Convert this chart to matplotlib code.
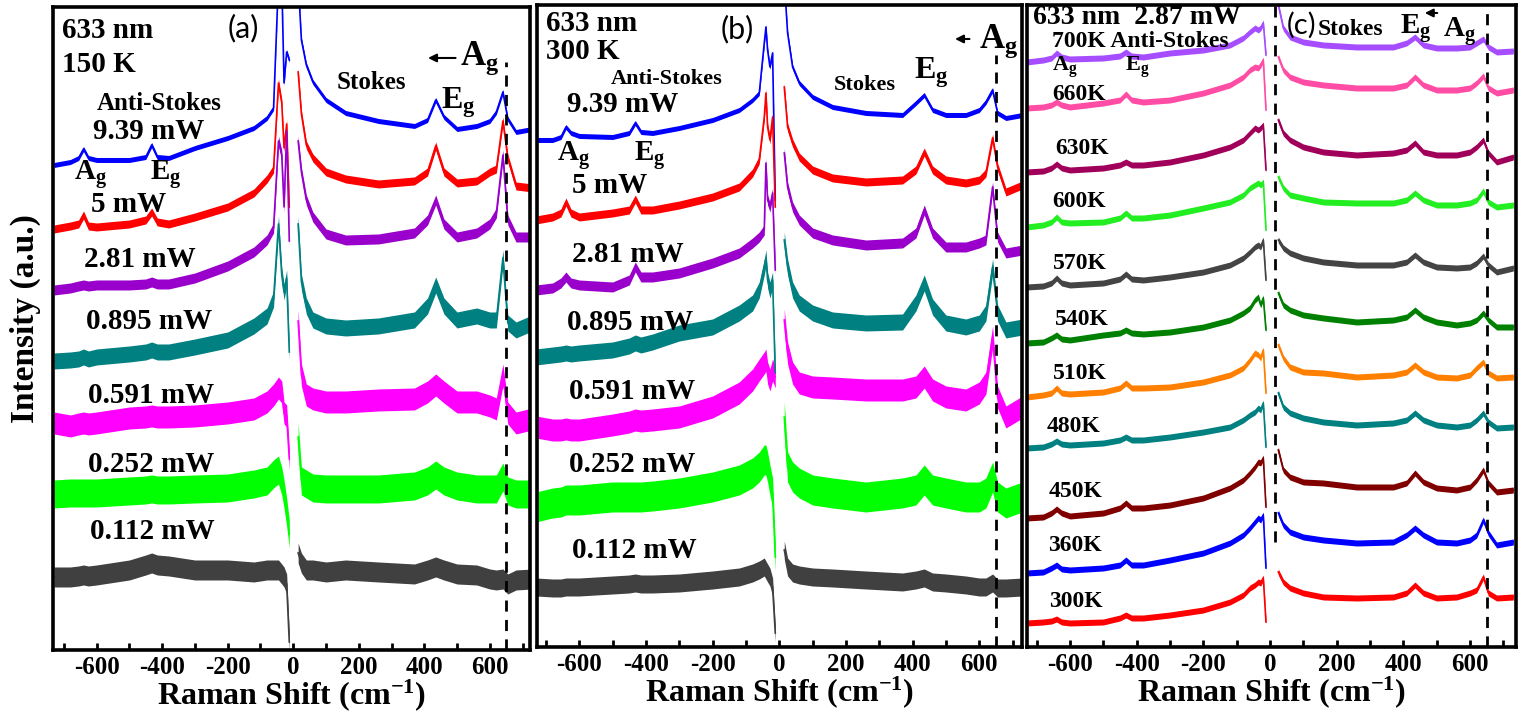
import matplotlib.pyplot as plt
from matplotlib.ticker import MultipleLocator
import numpy as np

plt.rcParams['font.family'] = 'serif'
plt.rcParams['font.serif'] = ['Liberation Serif', 'DejaVu Serif']
plt.rcParams['font.weight'] = 'bold'
plt.rcParams['axes.labelweight'] = 'bold'
plt.rcParams['mathtext.fontset'] = 'custom'
plt.rcParams['mathtext.rm'] = 'Liberation Serif:bold'
plt.rcParams['mathtext.bf'] = 'Liberation Serif:bold'
plt.rcParams['mathtext.it'] = 'Liberation Serif:bold'
plt.rcParams['mathtext.default'] = 'bf'
plt.rcParams['axes.unicode_minus'] = False

# Raman shift grids (cm-1): anti-Stokes side and Stokes side
as_x = [-730, -680, -655, -640, -625, -600, -500, -450, -432, -415, -380, -300, -200, -120, -80, -60, -45, -35, -28, -20, -12]
as_x_b = [-730, -680, -655, -640, -625, -600, -500, -450, -432, -415, -380, -300, -200, -120, -80, -60, -45, -40, -35, -28, -20, -12]
s_x = [15, 25, 40, 60, 100, 160, 260, 370, 410, 435, 460, 500, 560, 600, 620, 640, 655, 680, 730]
s_x_c = [25, 40, 60, 100, 160, 260, 370, 410, 435, 460, 500, 560, 600, 620, 640, 655, 680, 730]

# (a) 150 K, power series (stacked intensity, a.u.) -- anti-Stokes values then Stokes values
a_labels = ['9.39 mW', '5 mW', '2.81 mW', '0.895 mW', '0.591 mW', '0.252 mW', '0.112 mW']
a_939 = [485, 488, 492, 501, 492, 490, 490, 493, 505, 493, 492, 502, 512, 522, 532, 542, 670, 670, 567, 598, 590,
         670, 610, 585, 568, 550, 537, 529, 524, 530, 550, 533, 521, 524, 529, 538, 558, 531, 518, 521]
a_5 = [421, 424, 426, 435, 424, 423, 426, 430, 438, 428, 426, 433, 443, 457, 471, 481, 567, 547, 502, 526, 443,
       578, 536, 505, 492, 478, 471, 466, 469, 478, 504, 478, 467, 469, 478, 481, 529, 492, 464, 462]
a_281 = [360, 362, 364, 365, 364, 365, 365, 366, 368, 366, 366, 372, 384, 398, 410, 422, 509, 495, 443, 519, 409,
         509, 478, 450, 433, 416, 410, 411, 417, 430, 450, 426, 413, 417, 426, 437, 495, 430, 413, 413]
a_0895 = [289, 290, 291, 293, 291, 293, 296, 298, 300, 298, 298, 303, 310, 324, 334, 351, 426, 375, 358, 372, 298,
          426, 368, 344, 330, 324, 322, 324, 330, 344, 365, 344, 330, 334, 330, 330, 392, 327, 320, 327]
a_0591 = [227, 224, 226, 227, 226, 227, 232, 233, 234, 233, 233, 234, 237, 241, 248, 255, 262, 258, 237, 234, 191,
          329, 275, 255, 251, 248, 248, 250, 251, 258, 265, 258, 248, 248, 244, 241, 275, 237, 227, 231]
a_0252 = [156, 157, 157, 157, 157, 157, 159, 160, 161, 160, 160, 161, 162, 166, 169, 176, 180, 169, 156, 138, 116,
          213, 169, 166, 162, 161, 161, 161, 164, 169, 175, 169, 164, 161, 161, 161, 173, 159, 156, 156]
a_0112 = [73, 73, 74, 75, 74, 75, 80, 85, 87, 85, 84, 80, 80, 78, 80, 80, 80, 76, 73, 66, 8,
          97, 87, 80, 80, 78, 80, 78, 76, 80, 83, 80, 76, 75, 71, 70, 71, 66, 70, 71]
a_noise = [2.5, 4, 5, 8, 11, 14, 10]

# (b) 300 K, power series
b_939 = [510, 510, 513, 523, 517, 514, 513, 517, 527, 518, 517, 522, 530, 540, 550, 557, 607, 623, 600, 583, 597, 450,
         670, 617, 583, 567, 553, 543, 537, 535, 547, 555, 540, 535, 535, 540, 548, 560, 537, 532, 535]
b_5 = [430, 433, 437, 448, 437, 433, 437, 440, 451, 440, 440, 445, 453, 463, 477, 490, 533, 557, 523, 510, 533, 443,
       563, 523, 507, 493, 480, 472, 468, 470, 480, 498, 480, 470, 467, 470, 477, 512, 483, 458, 465]
b_281 = [360, 362, 367, 373, 367, 365, 363, 370, 383, 373, 373, 377, 387, 397, 407, 413, 420, 487, 450, 443, 457, 380,
         497, 463, 443, 430, 417, 410, 405, 407, 417, 440, 417, 403, 403, 407, 410, 463, 413, 397, 400]
b_0895 = [293, 295, 296, 297, 296, 297, 300, 304, 307, 305, 308, 317, 323, 337, 347, 360, 383, 392, 370, 360, 370, 277,
          410, 383, 360, 347, 337, 330, 327, 328, 347, 367, 343, 327, 323, 327, 337, 383, 337, 320, 323]
b_0591 = [223, 220, 220, 221, 220, 220, 225, 228, 230, 229, 230, 233, 243, 257, 270, 280, 287, 290, 277, 270, 280, 273,
          330, 297, 277, 267, 263, 262, 260, 260, 263, 273, 260, 253, 250, 257, 267, 313, 253, 233, 243]
b_0252 = [143, 147, 148, 150, 150, 150, 153, 153, 153, 153, 154, 157, 163, 170, 177, 183, 190, 190, 183, 170, 157, 93,
          233, 183, 173, 167, 160, 157, 153, 157, 160, 170, 160, 157, 153, 153, 157, 173, 153, 147, 153]
b_0112 = [63, 62, 62, 63, 63, 63, 65, 66, 67, 66, 66, 67, 70, 73, 77, 80, 83, 80, 77, 73, 63, 17,
          100, 83, 77, 75, 73, 72, 70, 68, 70, 72, 68, 67, 65, 63, 63, 67, 62, 62, 63]
b_noise = [2.5, 4, 5, 8, 11, 15, 9]

# (c) 2.87 mW, temperature series
c_labels = ['700K Anti-Stokes', '660K', '630K', '600K', '570K', '540K', '510K', '480K', '450K', '360K', '300K']
c_700 = [588, 590, 592, 597, 593, 591, 592, 594, 598, 594, 593, 597, 600, 605, 612, 618, 622, 620, 622, 627, 595,
         645, 622, 613, 608, 605, 603, 603, 607, 613, 605, 602, 602, 603, 607, 611, 603, 598, 599]
c_660 = [542, 543, 545, 548, 545, 543, 547, 550, 556, 550, 548, 550, 557, 565, 573, 580, 583, 582, 585, 590, 540,
         593, 580, 573, 568, 565, 562, 562, 565, 573, 565, 560, 560, 562, 567, 574, 562, 557, 560]
c_630 = [478, 479, 482, 486, 482, 480, 482, 485, 488, 485, 485, 488, 495, 503, 510, 517, 522, 520, 522, 525, 480,
         530, 517, 510, 503, 498, 495, 497, 500, 507, 498, 495, 495, 498, 503, 510, 497, 488, 493]
c_600 = [423, 425, 428, 433, 428, 427, 428, 432, 437, 432, 432, 435, 442, 448, 455, 462, 465, 467, 465, 468, 420,
         473, 462, 455, 452, 448, 447, 447, 450, 457, 450, 445, 445, 447, 450, 459, 448, 443, 445]
c_570 = [363, 364, 367, 372, 367, 365, 367, 371, 376, 371, 370, 373, 378, 385, 392, 398, 403, 405, 403, 410, 370,
         410, 402, 397, 392, 388, 385, 385, 388, 395, 388, 383, 382, 383, 387, 394, 385, 378, 382]
c_540 = [307, 308, 312, 315, 311, 310, 315, 317, 320, 317, 316, 318, 323, 330, 337, 342, 350, 353, 345, 352, 320,
         357, 345, 340, 335, 332, 328, 330, 333, 340, 333, 328, 325, 327, 330, 337, 330, 323, 323]
c_510 = [253, 255, 257, 262, 257, 256, 258, 262, 267, 262, 262, 263, 268, 275, 282, 290, 297, 295, 292, 300, 257,
         305, 292, 283, 278, 277, 273, 275, 278, 285, 278, 273, 272, 275, 282, 288, 277, 272, 273]
c_480 = [202, 203, 206, 209, 206, 205, 207, 210, 213, 210, 210, 213, 218, 223, 230, 235, 238, 242, 240, 247, 203,
         257, 243, 237, 232, 228, 225, 227, 230, 237, 230, 225, 223, 225, 230, 237, 228, 222, 223]
c_450 = [132, 133, 137, 141, 137, 134, 137, 142, 147, 142, 142, 145, 152, 162, 170, 177, 183, 188, 187, 192, 143,
         200, 180, 173, 168, 167, 163, 163, 167, 177, 168, 162, 160, 163, 170, 180, 167, 158, 160]
c_360 = [77, 78, 82, 85, 81, 80, 82, 85, 90, 85, 85, 90, 97, 107, 115, 122, 128, 132, 130, 135, 82,
         137, 125, 118, 113, 110, 107, 108, 115, 122, 115, 108, 107, 110, 115, 130, 117, 105, 108]
c_300 = [27, 28, 29, 31, 28, 27, 28, 32, 35, 32, 32, 35, 40, 48, 55, 62, 65, 68, 67, 72, 28,
         78, 68, 62, 57, 53, 52, 53, 57, 65, 57, 52, 53, 57, 60, 73, 57, 52, 53]
c_noise = [3, 3, 3, 3, 3, 3, 3, 3, 3, 3, 3]

ab_colors = ['#0000ff', '#ff0000', '#9900cc', '#008080', '#ff00ff', '#00ff00', '#404040']
c_colors = ['#a64dff', '#ff4da6', '#a0005a', '#22ee22', '#444444', '#008000',
            '#ff8000', '#008080', '#800000', '#0000ff', '#ff0000']


def draw(ax, ax_x, st_x, spectra, colors, noise):
    n_as = len(ax_x)
    for y, c, n in zip(spectra, colors, noise):
        y = np.array(y, dtype=float)
        for xx, yy in ((ax_x, y[:n_as]), (st_x, y[n_as:])):
            ax.fill_between(xx, yy - n, yy + n, color=c, lw=0)
            ax.plot(xx, yy, color=c, lw=1.2)


def style(ax, xlim, ylim):
    ax.set_xlim(*xlim)
    ax.set_ylim(*ylim)
    ax.set_yticks([])
    ax.xaxis.set_major_locator(MultipleLocator(200))
    ax.xaxis.set_minor_locator(MultipleLocator(100))
    ax.tick_params(axis='x', which='both', direction='in', length=5, width=2,
                   labelsize=18, pad=4)
    for t in ax.get_xticklabels():
        t.set_fontweight('bold')
    for s in ax.spines.values():
        s.set_linewidth(2.6)
    ax.set_xlabel(r'Raman Shift (cm$^{-1}$)', fontsize=23, fontweight='bold', labelpad=-1)


fig = plt.figure(figsize=(15.25, 7.12), dpi=100)
ax_a = fig.add_axes([0.0348, 0.0871, 0.3128, 0.9031])
ax_b = fig.add_axes([0.3521, 0.0913, 0.3180, 0.9017])
ax_c = fig.add_axes([0.6734, 0.0913, 0.3207, 0.9017])

draw(ax_a, as_x, s_x, [a_939, a_5, a_281, a_0895, a_0591, a_0252, a_0112], ab_colors, a_noise)
draw(ax_b, as_x_b, s_x, [b_939, b_5, b_281, b_0895, b_0591, b_0252, b_0112], ab_colors, b_noise)
draw(ax_c, as_x, s_x_c, [c_700, c_660, c_630, c_600, c_570, c_540, c_510, c_480, c_450, c_360, c_300],
     c_colors, c_noise)

style(ax_a, (-733, 723), (0, 643))
style(ax_b, (-727, 728), (3, 645))
style(ax_c, (-729, 738), (3, 645))

dash = dict(color='k', lw=2, dashes=(4, 3))
ax_a.plot([650, 650], [0, 588], **dash)
ax_b.plot([650, 650], [3, 595], **dash)
ax_c.plot([650, 650], [3, 645], **dash)
ax_c.plot([15, 15], [108, 645], **dash)

arrow = dict(arrowstyle='-|>', color='k', lw=1.5, mutation_scale=12)
lab = 21

# panel (a)
ax_a.text(-705, 619, '633 nm', fontsize=lab, va='center')
ax_a.text(-705, 585, '150 K', fontsize=lab, va='center')
ax_a.text(-153, 622, '(a)', fontsize=22, family='Lato', weight='normal', ha='center', va='center')
ax_a.text(-601, 546, 'Anti-Stokes', fontsize=18, va='center')
ax_a.text(-668, 475, r'A$_g$', fontsize=lab, va='center')
ax_a.text(-437, 475, r'E$_g$', fontsize=lab, va='center')
ax_a.text(131, 567, 'Stokes', fontsize=18, va='center')
ax_a.text(452, 547, r'E$_g$', fontsize=23, va='center')
ax_a.text(510, 592, r'A$_g$', fontsize=25, va='center')
ax_a.annotate('', xy=(403, 592), xytext=(504, 592), arrowprops=arrow)
for t, (xx, yy) in zip(a_labels, [(-610, 518), (-617, 445), (-638, 390), (-632, 328),
                                  (-626, 254), (-626, 185), (-620, 118)]):
    ax_a.text(xx, yy, t, fontsize=lab, va='center')

# panel (b)
ax_b.text(-699, 626, '633 nm', fontsize=lab, va='center')
ax_b.text(-699, 598, '300 K', fontsize=lab, va='center')
ax_b.text(-126, 621, '(b)', fontsize=22, family='Lato', weight='normal', ha='center', va='center')
ax_b.text(-504, 571, 'Anti-Stokes', fontsize=16, va='center')
ax_b.text(-666, 494, r'A$_g$', fontsize=lab, va='center')
ax_b.text(-435, 494, r'E$_g$', fontsize=lab, va='center')
ax_b.text(165, 565, 'Stokes', fontsize=16, va='center')
ax_b.text(405, 577, r'E$_g$', fontsize=23, va='center')
ax_b.text(600, 609, r'A$_g$', fontsize=25, va='center')
ax_b.annotate('', xy=(519, 611), xytext=(579, 611), arrowprops=arrow)
for t, (xx, yy) in zip(a_labels, [(-636, 545), (-621, 464), (-621, 395), (-636, 327),
                                  (-630, 258), (-630, 185), (-621, 99)]):
    ax_b.text(xx, yy, t, fontsize=lab, va='center')

# panel (c)
ax_c.text(-711, 632, '633 nm  2.87 mW', fontsize=20, va='center')
ax_c.text(96, 625, '(c)', fontsize=21, family='Lato', weight='normal', ha='center', va='center')
ax_c.text(144, 620, 'Stokes', fontsize=17, va='center')
ax_c.text(390, 621, r'E$_g$', fontsize=21, va='center')
ax_c.text(519, 618, r'A$_g$', fontsize=21, va='center')
ax_c.annotate('', xy=(456, 637), xytext=(510, 637), arrowprops=arrow)
ax_c.text(-654, 583, r'A$_g$', fontsize=16, va='center')
ax_c.text(-435, 583, r'E$_g$', fontsize=16, va='center')
for t, (xx, yy) in zip(c_labels, [(-654, 608), (-654, 555), (-645, 501), (-654, 448), (-651, 386),
                                  (-645, 330), (-651, 276), (-669, 223), (-663, 158), (-666, 104),
                                  (-663, 48)]):
    ax_c.text(xx, yy, t, fontsize=17, va='center')

fig.text(0.0164, 0.553, 'Intensity (a.u.)', fontsize=24, rotation=90, ha='center', va='center')

fig.savefig('out.png', dpi=100)
